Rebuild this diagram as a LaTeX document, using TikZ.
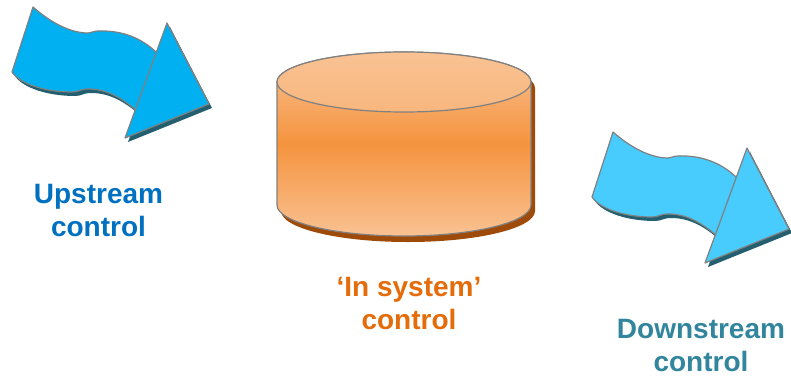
\documentclass[tikz,border=0pt]{standalone}
\usepackage{fontspec}
\setmainfont{Liberation Sans}
\usepackage{tikz}
\definecolor{upblue}{HTML}{0070C0}
\definecolor{sysorange}{HTML}{E46C0A}
\definecolor{downteal}{HTML}{31859C}
\definecolor{arrowcyan}{HTML}{00B0F0}
\definecolor{arrowsky}{HTML}{48CBFD}
\definecolor{arrowshadow}{HTML}{235F6E}
\definecolor{drumshadow}{HTML}{9E4A08}
\definecolor{drumlight}{HTML}{F9C293}
\definecolor{drumdark}{HTML}{F5943F}
\tikzset{
	labelstyle/.style={font=\fontsize{21}{24.75}\selectfont\bfseries,align=center,inner sep=0pt,anchor=base},
	outlinestyle/.style={draw=gray,line width=0.9pt,line join=round}
}
\newcommand{\flowarrow}[2]{%
	\begin{scope}[shift={(#1)}]
		\fill[arrowshadow,shift={(3,-4)}] (33,-7) .. controls (50,-22) and (70,-33) .. (88,-33) .. controls (92,-33) and (93,-31) .. (98,-31) .. controls (125,-30) and (145,-40) .. (160,-56) -- (138,-112) .. controls (120,-96) and (105,-89) .. (88,-89) .. controls (80,-89) and (79,-92) .. (72,-92) .. controls (45,-92) and (20,-84) .. (12,-72) -- cycle;
		\fill[arrowshadow,shift={(3,-4)}] (125,-138) -- (167,-23) -- (209,-104) -- cycle;
		\filldraw[fill=#2,outlinestyle] (33,-7) .. controls (50,-22) and (70,-33) .. (88,-33) .. controls (92,-33) and (93,-31) .. (98,-31) .. controls (125,-30) and (145,-40) .. (160,-56) -- (138,-112) .. controls (120,-96) and (105,-89) .. (88,-89) .. controls (80,-89) and (79,-92) .. (72,-92) .. controls (45,-92) and (20,-84) .. (12,-72) -- cycle;
		\filldraw[fill=#2,outlinestyle] (125,-138) -- (167,-23) -- (209,-104) -- cycle;
	\end{scope}}

\begin{document}
\begin{tikzpicture}[x=0.75pt,y=0.75pt]
	\useasboundingbox (0,0) rectangle (791,-378);
	\flowarrow{0,0}{arrowcyan}
	\flowarrow{580,-125}{arrowsky}
	\fill[drumshadow,shift={(4,-6)}] (277,-82) arc (180:0:127 and 30) -- (531,-205) arc (0:-180:127 and 31) -- cycle;
	\shadedraw[top color=drumlight,bottom color=drumlight,middle color=drumdark,outlinestyle] (277,-82) arc (180:0:127 and 30) -- (531,-205) arc (0:-180:127 and 31) -- cycle;
	\shadedraw[top color=drumlight,bottom color=drumlight!75!drumdark,outlinestyle] (404,-82) ellipse (127 and 30);
	\node[labelstyle,text=upblue] (up) at (98.5,-236) {Upstream\\control};
	\node[labelstyle,text=sysorange] (sys) at (409,-329) {‘In system’\\control};
	\node[labelstyle,text=downteal] (down) at (701,-371) {Downstream\\control};
\end{tikzpicture}
\end{document}
